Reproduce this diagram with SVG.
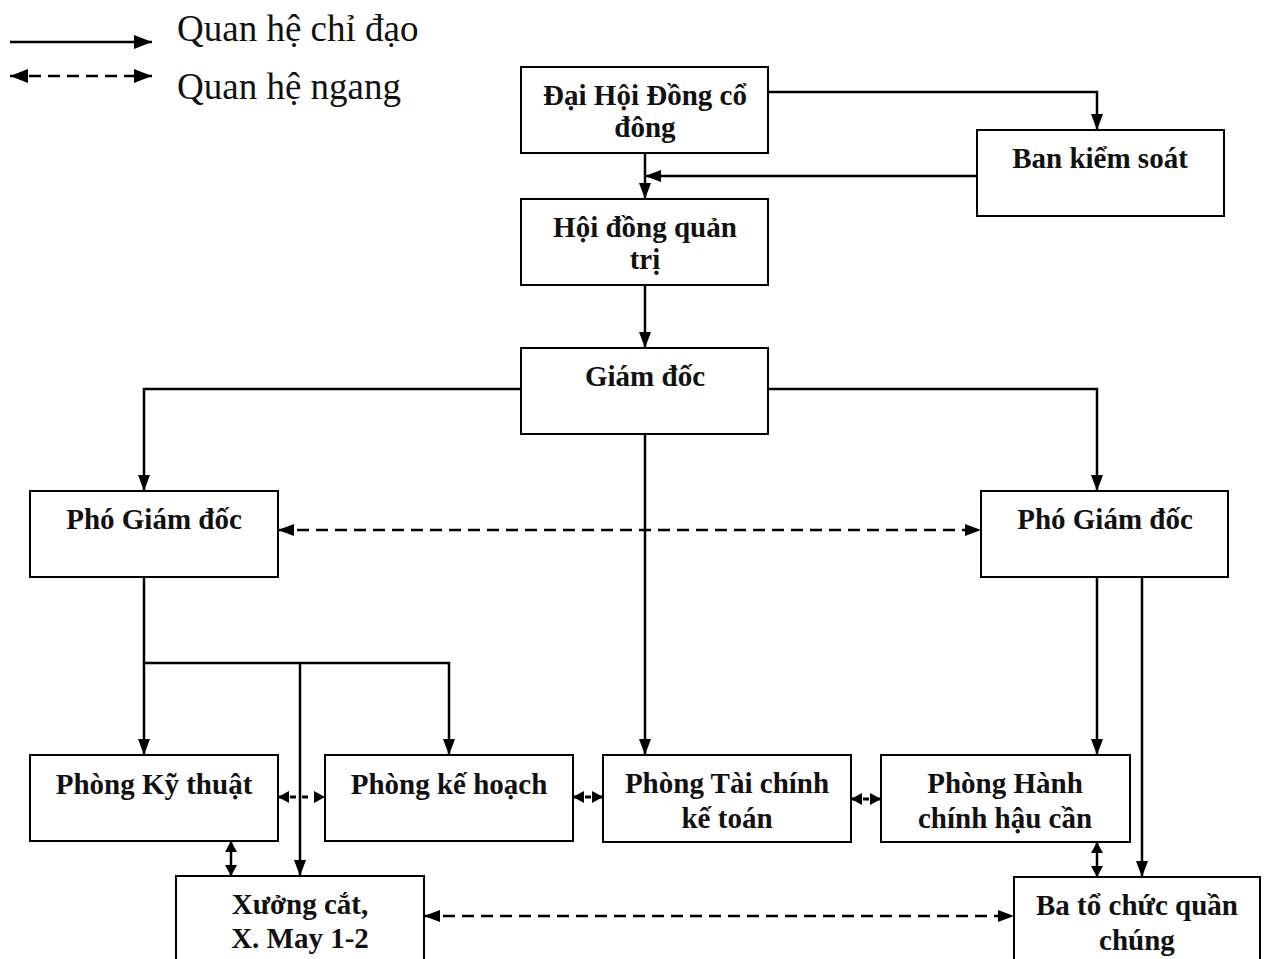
<svg xmlns="http://www.w3.org/2000/svg" width="1269" height="959" viewBox="0 0 1269 959">
<style>
.box{fill:#fff;stroke:#000;stroke-width:2}
.t{font-family:"Liberation Serif","Times New Roman",serif;font-weight:bold;font-size:29px;text-anchor:middle;fill:#111}
.lg{font-family:"Liberation Serif","Times New Roman",serif;font-size:37px;fill:#111}
.c{fill:none;stroke:#000;stroke-width:2.5}
.d{fill:none;stroke:#000;stroke-width:2.5;stroke-dasharray:12 7}
.s{fill:none;stroke:#000;stroke-width:3;stroke-dasharray:6 6}
</style>
<defs>
<marker id="ah" viewBox="0 0 16 12" refX="16" refY="6" markerWidth="16" markerHeight="12" orient="auto-start-reverse" markerUnits="userSpaceOnUse">
<path d="M0,0 L16,6 L0,12 z" fill="#000"/>
</marker>
<marker id="as" viewBox="0 0 11 12" refX="11" refY="6" markerWidth="11" markerHeight="12" orient="auto-start-reverse" markerUnits="userSpaceOnUse">
<path d="M0,0 L11,6 L0,12 z" fill="#000"/>
</marker>
<marker id="al" viewBox="0 0 18 14" refX="18" refY="7" markerWidth="18" markerHeight="14" orient="auto-start-reverse" markerUnits="userSpaceOnUse">
<path d="M0,0 L18,7 L0,14 z" fill="#000"/>
</marker>
</defs>
<rect width="1269" height="959" fill="#fff"/>
<g id="legend">
<line class="c" x1="10" y1="42" x2="152" y2="42" stroke-width="3" marker-end="url(#al)"/>
<line class="d" x1="10" y1="76" x2="152" y2="76" stroke-width="3" marker-start="url(#al)" marker-end="url(#al)"/>
<text class="lg" x="177" y="41">Quan hệ chỉ đạo</text>
<text class="lg" x="177" y="99">Quan hệ ngang</text>
</g>
<g id="connectors">
<polyline class="c" points="768,92 1097,92 1097,130" marker-end="url(#ah)"/>
<line class="c" x1="645" y1="153" x2="645" y2="199" marker-end="url(#ah)"/>
<line class="c" x1="977" y1="176" x2="645" y2="176" marker-end="url(#ah)"/>
<line class="c" x1="645" y1="285" x2="645" y2="348" marker-end="url(#ah)"/>
<polyline class="c" points="521,389 144,389 144,491" marker-end="url(#ah)"/>
<polyline class="c" points="768,389 1097,389 1097,491" marker-end="url(#ah)"/>
<line class="c" x1="645" y1="434" x2="645" y2="755" marker-end="url(#ah)"/>
<line class="d" x1="278" y1="530" x2="981" y2="530" marker-start="url(#ah)" marker-end="url(#ah)"/>
<line class="c" x1="144" y1="577" x2="144" y2="755" marker-end="url(#ah)"/>
<polyline class="c" points="144,663 449,663 449,755" marker-end="url(#ah)"/>
<polyline class="c" points="300,663 300,876" marker-end="url(#ah)"/>
<line class="c" x1="1097" y1="577" x2="1097" y2="755" marker-end="url(#ah)"/>
<line class="c" x1="1142" y1="577" x2="1142" y2="877" marker-end="url(#ah)"/>
<line class="s" x1="278" y1="797" x2="325" y2="797" stroke-dasharray="12 7" marker-start="url(#as)" marker-end="url(#as)"/>
<line class="s" x1="573" y1="797" x2="603" y2="797" marker-start="url(#as)" marker-end="url(#as)"/>
<line class="s" x1="851" y1="799" x2="881" y2="799" marker-start="url(#as)" marker-end="url(#as)"/>
<line class="c" x1="231" y1="841" x2="231" y2="876" stroke-width="3" marker-start="url(#as)" marker-end="url(#as)"/>
<line class="c" x1="1097" y1="842" x2="1097" y2="877" stroke-width="3" marker-start="url(#as)" marker-end="url(#as)"/>
<line class="d" x1="424" y1="916" x2="1014" y2="916" marker-start="url(#ah)" marker-end="url(#ah)"/>
</g>
<g id="dhdcd"><rect class="box" x="521" y="67" width="247" height="86"/><text class="t" x="645" y="105">Đại Hội Đồng cổ</text><text class="t" x="645" y="137">đông</text></g>
<g id="bks"><rect class="box" x="977" y="130" width="247" height="86"/><text class="t" x="1100" y="168">Ban kiểm soát</text></g>
<g id="hdqt"><rect class="box" x="521" y="199" width="247" height="86"/><text class="t" x="645" y="237">Hội đồng quản</text><text class="t" x="645" y="269">trị</text></g>
<g id="gd"><rect class="box" x="521" y="348" width="247" height="86"/><text class="t" x="645" y="386">Giám đốc</text></g>
<g id="pgd1"><rect class="box" x="30" y="491" width="248" height="86"/><text class="t" x="154" y="529">Phó Giám đốc</text></g>
<g id="pgd2"><rect class="box" x="981" y="491" width="247" height="86"/><text class="t" x="1105" y="529">Phó Giám đốc</text></g>
<g id="pkt"><rect class="box" x="30" y="755" width="248" height="86"/><text class="t" x="154" y="794">Phòng Kỹ thuật</text></g>
<g id="pkh"><rect class="box" x="325" y="755" width="248" height="86"/><text class="t" x="449" y="794">Phòng kế hoạch</text></g>
<g id="ptc"><rect class="box" x="603" y="755" width="248" height="87"/><text class="t" x="727" y="793">Phòng Tài chính</text><text class="t" x="727" y="828">kế toán</text></g>
<g id="phc"><rect class="box" x="881" y="755" width="249" height="87"/><text class="t" x="1005" y="793">Phòng Hành</text><text class="t" x="1005" y="828">chính hậu cần</text></g>
<g id="xuong"><rect class="box" x="176" y="876" width="248" height="100"/><text class="t" x="300" y="914">Xưởng cắt,</text><text class="t" x="300" y="948">X. May 1-2</text></g>
<g id="bato"><rect class="box" x="1014" y="877" width="246" height="100"/><text class="t" x="1137" y="915">Ba tổ chức quần</text><text class="t" x="1137" y="950">chúng</text></g>
</svg>
